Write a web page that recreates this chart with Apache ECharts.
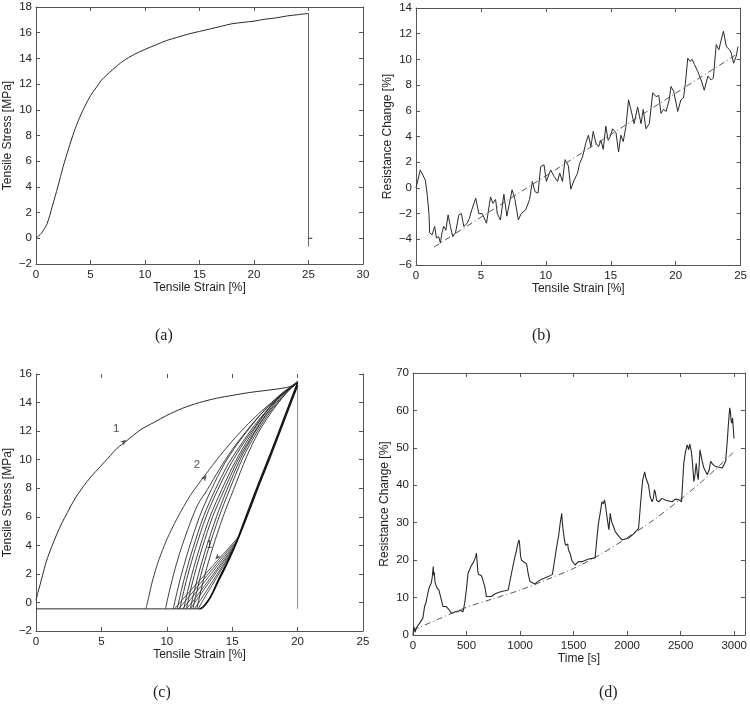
<!DOCTYPE html>
<html>
<head>
<meta charset="utf-8">
<script src="https://cdn.jsdelivr.net/npm/echarts@6/dist/echarts.min.js"></script>
<style>
html,body{margin:0;padding:0;background:#fff;}
#chart{width:750px;height:714px;}
</style>
</head>
<body>
<div id="chart"></div>
<script>
// ---------- Panel (a): stress-strain ----------
const stressStrainA = [[0,0],[0.5,0.4],[1,1.1],[1.5,2.5],[2,4.0],[2.5,5.6],[3,7.0],[3.5,8.3],[4,9.4],[4.5,10.3],[5,11.1],[5.5,11.7],[6,12.3],[7,13.1],[8,13.8],[9,14.3],[10,14.7],[11,15.05],[12,15.4],[13,15.65],[14,15.9],[15,16.1],[16,16.3],[17,16.5],[18,16.7],[19,16.8],[20,16.9],[21,17.05],[22,17.15],[23,17.3],[24,17.4],[25,17.5]];
const dropA = [[25,17.5],[25,-0.65]];
const tickMarkA = [[25,0],[25.35,0]];

// ---------- Panel (b): resistance change vs strain ----------
const resistanceB = [[0,0],[0.33,1.4],[0.4,1.5],[0.72,0.6],[0.85,-0.4],[1.0,-2.0],[1.05,-3.5],[1.24,-3.65],[1.44,-3.0],[1.57,-3.9],[1.75,-3.8],[1.88,-4.3],[2.0,-3.5],[2.14,-3.0],[2.3,-3.3],[2.47,-2.1],[2.65,-3.0],[2.83,-3.8],[3.04,-3.5],[3.3,-2.1],[3.5,-2.0],[3.68,-3.0],[3.94,-2.75],[4.1,-2.4],[4.3,-1.7],[4.6,-0.8],[4.84,-2.0],[5.1,-2.0],[5.43,-2.75],[5.74,-0.7],[5.92,-1.2],[6.13,-0.9],[6.26,-2.0],[6.5,-2.5],[6.77,-0.5],[7.0,-2.2],[7.4,-0.15],[7.62,-0.9],[7.88,-2.5],[8.1,-2.0],[8.45,-1.7],[8.75,-0.9],[8.96,0.5],[9.17,-0.3],[9.4,-0.4],[9.6,1.65],[9.86,1.8],[10.04,0.5],[10.37,1.4],[10.63,0.9],[10.9,0.5],[11.07,1.15],[11.28,0.5],[11.48,2.2],[11.74,1.7],[11.92,-0.1],[12.18,0.6],[12.44,1.15],[12.6,1.9],[12.82,2.4],[13.08,3.5],[13.28,4.1],[13.47,3.2],[13.65,4.4],[13.85,3.5],[14.06,3.2],[14.24,3.7],[14.42,3.0],[14.62,4.8],[14.8,3.7],[14.96,4.0],[15.14,4.6],[15.4,4.3],[15.6,2.8],[15.78,4.1],[15.96,3.6],[16.17,4.8],[16.37,6.85],[16.55,6.1],[16.8,5.0],[17.07,6.3],[17.33,5.0],[17.5,6.1],[17.71,4.6],[17.97,5.0],[18.23,7.4],[18.49,7.1],[18.7,7.2],[18.87,5.8],[19.05,6.1],[19.26,5.95],[19.5,6.85],[19.64,7.9],[19.85,7.5],[20.16,5.95],[20.4,6.85],[20.6,7.0],[20.75,8.15],[20.93,10.1],[21.1,9.85],[21.27,10.0],[21.45,9.6],[21.7,9.05],[21.96,8.4],[22.2,7.6],[22.48,8.7],[22.73,8.4],[22.9,8.55],[23.12,11.15],[23.33,10.75],[23.5,11.5],[23.68,12.2],[23.9,11.0],[24.15,10.75],[24.28,10.5],[24.46,9.7],[24.66,10.25],[24.8,11.0]];
const fitB = [[1.4,-4.6],[24.7,10.4]];

// ---------- Panel (c): cyclic loading ----------
const loadC1 = [[0,0.15],[0.15,0.7],[0.3,1.2],[0.5,1.9],[0.8,2.9],[1.2,3.9],[1.6,4.8],[2.0,5.6],[2.4,6.3],[3.0,7.3],[3.6,8.1],[4.2,8.8],[4.9,9.5],[5.5,10.1],[6.2,10.8],[6.9,11.3],[8.0,12.1],[9.0,12.6],[10,13.1],[11.2,13.6],[12.5,14.0],[13.8,14.3],[15,14.5],[16.3,14.7],[17.6,14.85],[18.8,15.0],[19.5,15.15],[20,15.5]];
const reloadC = [
 [[8.4,-0.45],[8.6,0.3],[8.9,1.5],[9.4,3.0],[10,4.4],[10.8,5.9],[11.8,7.5],[13,9.0],[14,10.2],[15,11.3],[16,12.3],[17,13.2],[18,14.0],[19,14.8],[20,15.4]],
 [[9.9,-0.45],[10.1,0.4],[10.5,1.9],[11,3.5],[11.8,5.6],[12.4,6.9],[13.1,7.9],[14,9.3],[15,10.7],[16,11.9],[17,13.0],[18,13.9],[19,14.7],[20,15.4]],
 [[10.5,-0.45],[10.7,0.4],[11.1,1.9],[11.7,3.8],[12.5,6.0],[13.4,7.9],[14.4,9.7],[15.4,11.1],[16.4,12.3],[17.4,13.4],[18.4,14.3],[19.2,14.9],[20,15.4]],
 [[10.8,-0.45],[11.0,0.4],[11.4,1.9],[12.0,3.8],[12.8,6.0],[13.7,7.9],[14.7,9.7],[15.7,11.1],[16.7,12.4],[17.7,13.5],[18.6,14.4],[19.3,14.95],[20,15.4]],
 [[11.0,-0.45],[11.2,0.4],[11.6,1.9],[12.2,3.8],[13.0,6.0],[13.9,7.9],[14.9,9.7],[15.9,11.2],[16.9,12.5],[17.8,13.6],[18.7,14.5],[19.4,15.0],[20,15.4]],
 [[11.3,-0.45],[11.5,0.4],[11.9,1.9],[12.5,3.8],[13.3,6.0],[14.2,7.9],[15.2,9.8],[16.2,11.4],[17.1,12.7],[18.0,13.8],[18.9,14.6],[19.5,15.05],[20,15.4]],
 [[11.5,-0.45],[11.7,0.4],[12.1,1.9],[12.7,3.8],[13.5,6.0],[14.4,7.9],[15.4,9.9],[16.4,11.5],[17.3,12.8],[18.2,13.9],[19.0,14.7],[19.6,15.1],[20,15.4]],
 [[11.8,-0.45],[12.0,0.4],[12.4,1.9],[13.0,3.8],[13.8,6.0],[14.6,7.9],[15.6,10.0],[16.6,11.7],[17.5,13.0],[18.4,14.0],[19.2,14.8],[20,15.4]],
 [[12.0,-0.45],[12.2,0.4],[12.6,1.9],[13.2,3.8],[14.0,6.0],[14.8,7.9],[15.8,10.1],[16.8,11.8],[17.7,13.1],[18.6,14.1],[19.3,14.85],[20,15.4]],
 [[12.3,-0.45],[12.5,0.4],[12.9,1.9],[13.5,3.8],[14.3,6.0],[15.1,7.9],[16.1,10.2],[17.0,11.9],[17.9,13.2],[18.8,14.3],[19.4,14.9],[20,15.4]]
];
const unloadC = [
 [[12.6,-0.45],[12.9,-0.2],[13.4,0.5],[14,1.7],[14.6,2.8],[15.3,4.2],[16,5.9],[17,8.3],[18,10.6],[19,13.0],[20,15.4]],
 [[12.5,-0.45],[12.8,-0.3],[13.3,0.3],[13.9,1.4],[14.5,2.5],[15.2,3.9],[16,5.7],[17,8.1],[18,10.4],[19,12.8],[20,15.2]]
];
const fanC = [
 [[15.5,4.6],[11.2,0.2],[10.6,-0.45]],
 [[15.4,4.4],[11.5,0.2],[10.9,-0.45]],
 [[15.3,4.2],[11.8,0.2],[11.2,-0.45]],
 [[15.2,4.0],[12.1,0.2],[11.5,-0.45]],
 [[15.1,3.8],[12.3,0.2],[11.8,-0.45]],
 [[15.0,3.6],[12.6,0.2],[12.1,-0.45]],
 [[14.9,3.4],[12.8,0.2],[12.4,-0.45]]
];
const flatC = [[0,-0.45],[12.6,-0.45]];
const verticalC = [[20,15.5],[20,-0.45]];
const labelsC = [
 {text:'1', pos:[6.9,11.4], rot:-51},
 {text:'2', pos:[13.05,8.9], rot:-40},
 {text:'1', pos:[13.7,3.0], rot:137}
];

// ---------- Panel (d): resistance change vs time ----------
const resistanceD = [[0,0],[8,2.2],[20,0.8],[30,1.8],[45,2.5],[61,3.1],[75,2.8],[92,4.5],[100,5.0],[108,7.6],[120,8.5],[139,11.2],[150,12.5],[160,13.2],[170,13.8],[180,15.5],[189,18.3],[193,16.0],[198,16.8],[205,14.2],[211,13.8],[220,12.8],[230,12.5],[242,12.0],[255,10.5],[265,9.4],[280,7.6],[295,7.9],[311,7.6],[330,7.0],[358,5.8],[380,6.0],[400,6.3],[420,6.2],[440,6.7],[455,6.3],[467,6.2],[483,8.5],[500,12.5],[514,16.5],[530,17.5],[545,18.6],[561,19.2],[575,19.5],[585,20.8],[592,21.9],[598,20.0],[605,17.0],[612,16.2],[623,16.0],[640,15.8],[655,15.6],[670,13.0],[686,10.3],[700,10.0],[733,10.3],[760,10.9],[790,11.3],[827,11.6],[860,11.8],[889,12.0],[904,12.1],[920,16.5],[945,20.0],[967,22.7],[980,24.5],[989,25.4],[995,24.6],[1005,21.0],[1014,20.0],[1025,20.4],[1035,19.5],[1045,20.0],[1061,19.0],[1075,16.5],[1092,14.3],[1110,13.9],[1139,13.6],[1160,14.2],[1202,14.9],[1230,15.2],[1264,15.6],[1302,16.2],[1320,19.5],[1342,23.6],[1360,26.5],[1375,30.0],[1389,32.5],[1395,30.0],[1405,27.5],[1414,25.4],[1425,24.0],[1436,23.6],[1445,24.3],[1452,22.7],[1467,21.8],[1485,19.8],[1514,18.7],[1545,19.6],[1576,19.6],[1640,20.3],[1701,20.6],[1715,25.0],[1732,29.9],[1748,32.5],[1764,35.6],[1778,35.0],[1788,36.1],[1795,35.2],[1805,33.0],[1820,29.9],[1830,28.1],[1842,32.5],[1850,31.0],[1858,30.0],[1873,29.0],[1889,27.6],[1920,26.5],[1951,25.4],[2014,25.9],[2060,27.0],[2107,28.5],[2125,35.0],[2145,41.4],[2155,42.5],[2164,43.6],[2175,42.0],[2186,42.3],[2200,40.0],[2215,37.0],[2233,35.6],[2245,36.5],[2255,38.8],[2264,38.0],[2275,36.0],[2295,35.6],[2326,36.5],[2360,36.0],[2420,35.6],[2450,36.3],[2483,36.1],[2508,35.6],[2529,45.9],[2545,49.0],[2561,50.8],[2575,49.5],[2585,51.0],[2592,50.8],[2600,49.0],[2608,46.8],[2623,41.0],[2632,42.5],[2645,45.9],[2655,43.0],[2664,41.5],[2672,45.0],[2680,49.5],[2690,48.0],[2700,46.5],[2717,44.6],[2748,42.8],[2765,44.0],[2780,46.4],[2800,45.6],[2826,45.0],[2860,44.8],[2889,44.6],[2920,46.4],[2936,52.1],[2945,56.0],[2958,60.7],[2965,59.5],[2970,57.5],[2977,56.6],[2985,58.0],[2992,55.0],[2998,52.5]];
const fitD = [[0,1.3],[250,4.4],[500,7.4],[750,9.7],[1000,12.0],[1250,14.8],[1500,17.8],[1750,21.5],[2000,26.0],[2250,30.8],[2500,36.3],[2750,42.3],[3000,49.0]];

// ---------- axis ranges ----------
const axesA = {x:[0,30,5], y:[-2,18,2], xName:'Tensile Strain [%]', yName:'Tensile Stress [MPa]'};
const axesB = {x:[0,25,5], y:[-6,14,2], xName:'Tensile Strain [%]', yName:'Resistance Change [%]'};
const axesC = {x:[0,25,5], y:[-2,16,2], xName:'Tensile Strain [%]', yName:'Tensile Stress [MPa]'};
const axesD = {x:[0,3100,500], y:[0,70,10], xName:'Time [s]', yName:'Resistance Change [%]'};
const panelLabels = ['(a)','(b)','(c)','(d)'];

const chart = echarts.init(document.getElementById('chart'), null, {renderer:'canvas'});
const FONT = 'Liberation Sans, Arial, Helvetica, sans-serif';
const AX = '#555';
const LN = '#2a2a2a';
const minus = v => String(v).replace('-', '\u2212');

const grids = [
  {left:36, top:7, width:327, height:257},
  {left:416, top:8, width:327, height:257},
  {left:36, top:374, width:327, height:257},
  {left:413, top:373, width:332, height:262}
];
const panels = [axesA, axesB, axesC, axesD];

const xAxis = [], yAxis = [];
panels.forEach((p, i) => {
  const hideTopLine = (i === 2);
  xAxis.push({
    type:'value', gridIndex:i, position:'bottom', min:p.x[0], max:p.x[1], interval:p.x[2],
    name:p.xName, nameLocation:'middle', nameGap:17,
    nameTextStyle:{fontFamily:FONT, fontSize:12, color:'#222'},
    axisLine:{show:true, onZero:false, lineStyle:{color:AX, width:1}},
    axisTick:{show:true, inside:true, length:4, lineStyle:{color:AX}},
    axisLabel:{fontFamily:FONT, fontSize:11.5, color:'#222', margin:5, formatter:minus, showMaxLabel:(i!==3)},
    splitLine:{show:false}
  });
  xAxis.push({
    type:'value', gridIndex:i, position:'top', min:p.x[0], max:p.x[1], interval:p.x[2],
    axisLine:{show:!hideTopLine, onZero:false, lineStyle:{color:AX, width:1}},
    axisTick:{show:true, inside:true, length:4, lineStyle:{color:AX}},
    axisLabel:{show:false}, splitLine:{show:false}
  });
  yAxis.push({
    type:'value', gridIndex:i, position:'left', min:p.y[0], max:p.y[1], interval:p.y[2],
    name:p.yName, nameLocation:'middle', nameGap:22,
    nameTextStyle:{fontFamily:FONT, fontSize:12, color:'#222'},
    axisLine:{show:true, onZero:false, lineStyle:{color:AX, width:1}},
    axisTick:{show:true, inside:true, length:4, lineStyle:{color:AX}},
    axisLabel:{fontFamily:FONT, fontSize:11.5, color:'#222', margin:4, formatter:minus},
    splitLine:{show:false}
  });
  yAxis.push({
    type:'value', gridIndex:i, position:'right', min:p.y[0], max:p.y[1], interval:p.y[2],
    axisLine:{show:true, onZero:false, lineStyle:{color:AX, width:1}},
    axisTick:{show:true, inside:true, length:4, lineStyle:{color:AX}},
    axisLabel:{show:false}, splitLine:{show:false}
  });
});

function line(data, g, opts) {
  opts = opts || {};
  return {
    type:'line', xAxisIndex:g*2, yAxisIndex:g*2, data:data, symbol:'none', silent:true,
    animation:false, clip:true, smooth: opts.smooth || false,
    lineStyle:Object.assign({color:LN, width:1}, opts.style || {}), z: opts.z || 2
  };
}

const series = [];
series.push(line(stressStrainA, 0, {smooth:0.3}));
series.push(line(dropA, 0, {style:{color:'#666'}}));
series.push(line(tickMarkA, 0));
series.push(line(resistanceB, 1));
series.push(line(fitB, 1, {style:{type:[6,3,1,3], color:'#555'}}));
series.push(line(verticalC, 2, {style:{color:'#888'}}));
series.push(line(flatC, 2));
series.push(line(loadC1, 2, {smooth:0.3}));
reloadC.forEach(r => series.push(line(r, 2, {smooth:0.3, style:{width:0.9}})));
fanC.forEach(r => series.push(line(r, 2, {style:{width:0.8}})));
unloadC.forEach(r => series.push(line(r, 2, {smooth:0.3, style:{width:1.4, color:'#111'}})));
series.push({
  type:'scatter', xAxisIndex:4, yAxisIndex:4, silent:true, animation:false, z:5,
  data: labelsC.map(l => ({value:l.pos, symbolRotate:l.rot, label:{formatter:l.text}})),
  symbol:'arrow', symbolSize:[4,6], itemStyle:{color:'#333'},
  label:{show:true, position:[-7,-15], fontFamily:FONT, fontSize:11.5, color:'#222'}
});
series.push(line(fitD, 3, {smooth:0.3, style:{type:[6,3,1,3], color:'#555'}}));
series.push(line(resistanceD, 3, {style:{width:1.1}}));

const labelPos = [[166,337],[543,337],[164,694],[610,694]];
const graphic = panelLabels.map((t, i) => ({
  type:'text', left:labelPos[i][0]-11, top:labelPos[i][1]-9,
  style:{text:t, font:'16px "Liberation Serif", "DejaVu Serif", serif', fill:'#222'}
}));

chart.setOption({
  animation:false,
  backgroundColor:'#fff',
  grid: grids,
  xAxis: xAxis,
  yAxis: yAxis,
  series: series,
  graphic: graphic
});
</script>
</body>
</html>
